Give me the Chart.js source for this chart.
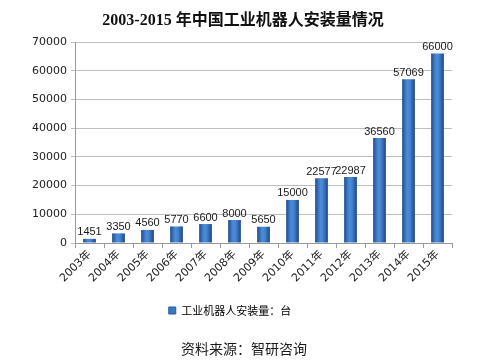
<!DOCTYPE html>
<html>
<head>
<meta charset="utf-8">
<script src="https://cdn.jsdelivr.net/npm/chart.js@4/dist/chart.umd.min.js"></script>
<style>
html,body{margin:0;padding:0;background:#fff;}
#wrap{width:479px;height:360px;position:relative;}
</style>
</head>
<body>
<div id="wrap"><canvas id="c" width="479" height="360"></canvas></div>
<script>
const categories = ["2003年","2004年","2005年","2006年","2007年","2008年","2009年","2010年","2011年","2012年","2013年","2014年","2015年"];
const installs = [1451,3350,4560,5770,6600,8000,5650,15000,22577,22987,36560,57069,66000];
const yTicks = [0,10000,20000,30000,40000,50000,60000,70000];
const titleText = "2003-2015 年中国工业机器人安装量情况";
const seriesName = "工业机器人安装量：台";
const sourceText = "资料来源：智研咨询";
const BAR_FRAC = 0.44;

function barGradient(ctx, x0, x1){
  const g = ctx.createLinearGradient(x0,0,x1,0);
  g.addColorStop(0,'#1f4e8c');
  g.addColorStop(0.4,'#4c8cdb');
  g.addColorStop(0.6,'#4683d0');
  g.addColorStop(1,'#1c4783');
  return g;
}

function barFill(context){
  const chart = context.chart;
  const xs = chart.scales && chart.scales.x;
  if(!chart.chartArea || !xs || context.dataIndex === undefined) return '#3a78c3';
  const cx = xs.getPixelForValue(context.dataIndex);
  const w = (xs.width / categories.length) * BAR_FRAC;
  return barGradient(chart.ctx, cx - w/2, cx + w/2);
}

const textPlugin = {
  id:'texts',
  afterDatasetsDraw(chart){
    const ctx = chart.ctx;
    ctx.save();
    ctx.font = '11px "Liberation Sans", sans-serif';
    ctx.fillStyle = '#1a1a1a';
    ctx.textAlign = 'center';
    ctx.textBaseline = 'bottom';
    chart.getDatasetMeta(0).data.forEach((el,i)=>{
      ctx.fillText(String(installs[i]), el.x, el.y - 1);
    });
    ctx.restore();
  },
  afterDraw(chart){
    const ctx = chart.ctx;
    ctx.save();
    ctx.fillStyle = '#111';
    ctx.textAlign = 'center';
    ctx.textBaseline = 'middle';
    ctx.font = 'bold 16px "Liberation Serif", "Noto Sans CJK SC", serif';
    ctx.fillText(titleText, 243, 21);
    ctx.font = '14px "Noto Sans CJK SC", sans-serif';
    ctx.fillStyle = '#1a1a1a';
    ctx.fillText(sourceText, 244, 349);
    ctx.restore();
  }
};

new Chart(document.getElementById('c'), {
  type:'bar',
  data:{
    labels:categories,
    datasets:[{
      label:seriesName,
      data:installs,
      backgroundColor:barFill,
      borderWidth:0,
      barPercentage:BAR_FRAC,
      categoryPercentage:1.0
    }]
  },
  options:{
    responsive:false,
    animation:false,
    devicePixelRatio:1,
    layout:{padding:{top:42,right:27,left:8,bottom:34}},
    plugins:{
      legend:{
        position:'bottom',
        labels:{
          boxWidth:7, boxHeight:7,
          font:{size:11, family:'"Noto Sans CJK SC", sans-serif'},
          color:'#222',
          padding:8,
          generateLabels(chart){
            return [{text:seriesName, fillStyle:'#3a78c3', strokeStyle:'#2a5a99', lineWidth:1, datasetIndex:0}];
          }
        }
      },
      tooltip:{enabled:false},
      title:{display:false}
    },
    scales:{
      x:{
        offset:true,
        grid:{display:true, drawOnChartArea:false, drawTicks:true, tickLength:5, color:'#9a9a9a', offset:true},
        border:{color:'#9a9a9a'},
        ticks:{minRotation:45, maxRotation:45, color:'#222', font:{size:11, family:'"DejaVu Sans", "Noto Sans CJK SC", sans-serif'}, padding:0},
        afterFit(scale){ scale.height = 54; }
      },
      y:{
        min:0, max:70000,
        afterBuildTicks(scale){ scale.ticks = yTicks.map(v=>({value:v})); },
        grid:{color:'#bdbdbd', tickLength:4, lineWidth:1},
        border:{color:'#9a9a9a'},
        ticks:{color:'#222', font:{size:11, family:'"DejaVu Sans", sans-serif'}, padding:4, callback:(v)=>String(v)},
        afterFit(scale){ scale.width = 67; }
      }
    }
  },
  plugins:[textPlugin]
});
</script>
</body>
</html>
